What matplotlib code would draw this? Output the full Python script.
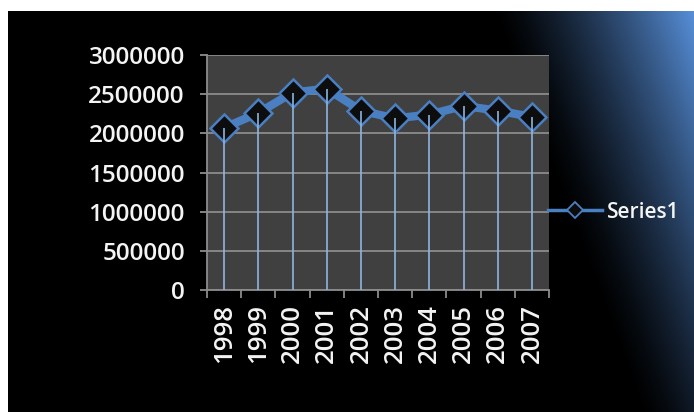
import numpy as np
import matplotlib
matplotlib.use("Agg")
import matplotlib.pyplot as plt
from matplotlib.lines import Line2D

# Data
years = ["1998", "1999", "2000", "2001", "2002", "2003", "2004", "2005", "2006", "2007"]
values = [2070000, 2260000, 2520000, 2570000, 2290000, 2190000, 2240000, 2350000, 2290000, 2210000]
y_ticks = [0, 500000, 1000000, 1500000, 2000000, 2500000, 3000000]
series_name = "Series1"

W, H, DPI = 694, 412, 100
FONT = "Open Sans"
TEXT_C = "#f4f4f4"
LINE_C = "#4a7fc1"
DROP_C = "#8db4e2"
GRID_C = "#8c8c8c"

fig = plt.figure(figsize=(W / DPI, H / DPI), dpi=DPI, facecolor="white")

# Slide background: white margin, black panel with a blue glow in the top-right corner
bg = fig.add_axes([0, 0, 1, 1], zorder=-10)
bg.set_axis_off()
yy, xx = np.mgrid[0:H, 0:W].astype(float)
x0, y0 = 8, 11
dx = (W - 1) - xx
dy = yy - y0
d = dx / 200.0 + dy / 540.0
t = np.clip(1 - d, 0, 1) ** 1.3
corner = np.array([0.34, 0.56, 0.85])
img = t[..., None] * corner[None, None, :]
mask = (xx >= x0) & (yy >= y0)
img[~mask] = 1.0
bg.imshow(img, extent=[0, W, H, 0], aspect="auto", interpolation="bilinear")
bg.set_xlim(0, W)
bg.set_ylim(H, 0)

# Plot area
L, R, T, B = 207, 549, 55, 290
ax = fig.add_axes([L / W, 1 - B / H, (R - L) / W, (B - T) / H])
ax.set_facecolor("#404040")

x = np.arange(len(years))
ax.set_xlim(-0.5, len(years) - 0.5)
ax.set_ylim(0, 3000000)

ax.set_yticks(y_ticks)
ax.set_yticklabels([str(v) for v in y_ticks], fontfamily=FONT, fontsize=17.5,
                   fontweight="semibold", color=TEXT_C)
ax.yaxis.grid(True, color=GRID_C, linewidth=1.3)
ax.set_axisbelow(True)

# Category boundaries carry the tick marks, labels sit at centres
ax.set_xticks(np.arange(len(years) + 1) - 0.5)
ax.set_xticklabels([])
ax.set_xticks(x, minor=True)
ax.set_xticklabels(years, minor=True, rotation=90, fontfamily=FONT, fontsize=18.5,
                   fontweight="semibold", color=TEXT_C)
ax.tick_params(axis="x", which="major", length=6, width=1.3, color=GRID_C)
ax.tick_params(axis="x", which="minor", length=0, pad=10)
ax.tick_params(axis="y", length=5, width=1.3, color=GRID_C, pad=11)

for side in ("top", "right"):
    ax.spines[side].set_visible(False)
for side in ("left", "bottom"):
    ax.spines[side].set_color(GRID_C)
    ax.spines[side].set_linewidth(1.3)

# Series line with drop lines to the category axis
ax.plot(x, values, color=LINE_C, linewidth=6, solid_joinstyle="miter", zorder=3)
ax.plot(x, values, linestyle="none", marker="D", markersize=14,
        markerfacecolor="#0d0d0d", markeredgecolor=LINE_C, markeredgewidth=1.8, zorder=4)
ax.vlines(x, 0, values, color=DROP_C, linewidth=1.2, zorder=5)

handle = Line2D([], [], color=LINE_C, linewidth=2.5, marker="D", markersize=8,
                markerfacecolor="#0d0d0d", markeredgecolor=LINE_C, markeredgewidth=1.3)
leg = fig.legend([handle], [series_name], loc="center left",
                 bbox_to_anchor=(548 / W, 1 - 212 / H), bbox_transform=fig.transFigure,
                 frameon=False, borderpad=0, borderaxespad=0,
                 handlelength=2.6, handletextpad=0.25,
                 prop={"family": FONT, "size": 15, "weight": "semibold"})
for txt in leg.get_texts():
    txt.set_color(TEXT_C)

fig.savefig("out.png", dpi=DPI, facecolor="white")
